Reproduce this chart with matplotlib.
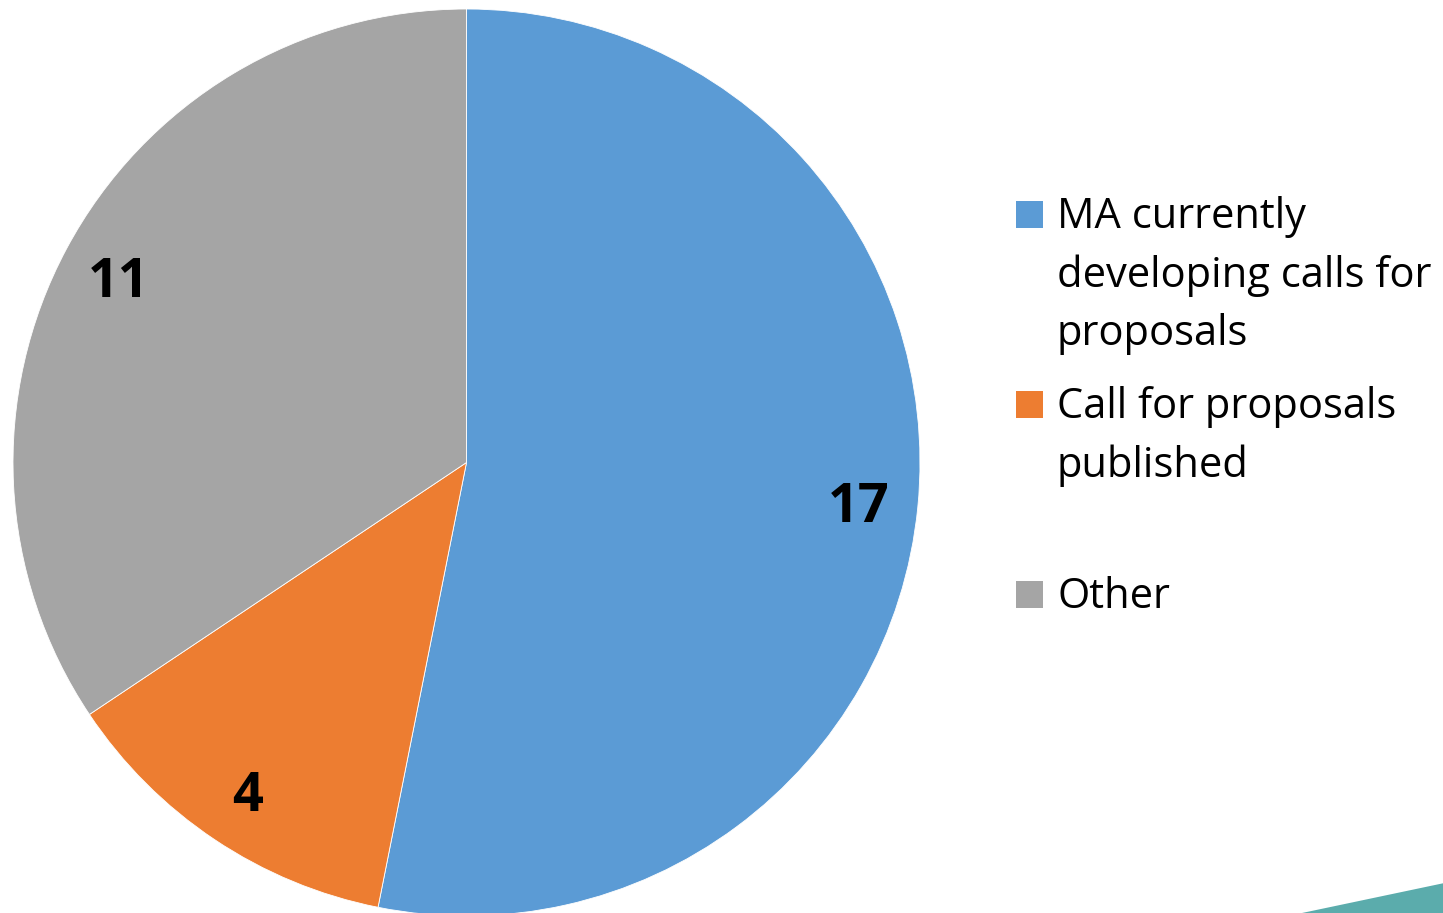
import matplotlib
matplotlib.use("Agg")
import matplotlib.pyplot as plt
from matplotlib.patches import Rectangle, Polygon

plt.rcParams['font.family'] = ['Open Sans', 'DejaVu Sans']

# Data
categories = ['MA currently\ndeveloping calls for\nproposals',
              'Call for proposals\npublished',
              'Other']
counts = [17, 4, 11]
colors = ['#5B9BD5', '#ED7D31', '#A5A5A5']

W, H = 1443, 913
fig = plt.figure(figsize=(W / 100, H / 100), dpi=100)

# pie axes: centre ~(466, 462) px, radius ~453 px
cx, cy, r = 466.5, 462.5, 453.5
ax = fig.add_axes([(cx - r) / W, (H - cy - r) / H, 2 * r / W, 2 * r / H])
wedges, texts = ax.pie(counts, colors=colors, startangle=90, counterclock=False,
                       labels=[str(c) for c in counts], labeldistance=0.87,
                       wedgeprops=dict(edgecolor='white', linewidth=0.6),
                       textprops=dict(fontsize=39, fontweight='bold', color='black'))
for t in texts:
    t.set_ha('center')
    t.set_va('center_baseline')
ax.set_xlim(-1, 1)
ax.set_ylim(-1, 1)
ax.set_aspect('equal')
ax.axis('off')

# legend, drawn by hand so that entries are evenly spaced like the original
sq = 27
box_tops = [201, 391, 581]
for wedge, label, top in zip(wedges, categories, box_tops):
    fig.patches.append(Rectangle((1016 / W, (H - top - sq) / H), sq / W, sq / H,
                                 transform=fig.transFigure,
                                 facecolor=wedge.get_facecolor(), edgecolor='none'))
    fig.text(1057 / W, (H - top + 5) / H, label, fontsize=30, va='top', ha='left',
             linespacing=1.51, color='black')

# teal decoration in the bottom-right corner
fig.patches.append(Polygon([(1302 / W, 0), (1 + 0.001, 30 / H), (1 + 0.001, 0)],
                           closed=True, transform=fig.transFigure,
                           facecolor='#5BACAC', edgecolor='none'))

fig.savefig('out.png', dpi=100)
